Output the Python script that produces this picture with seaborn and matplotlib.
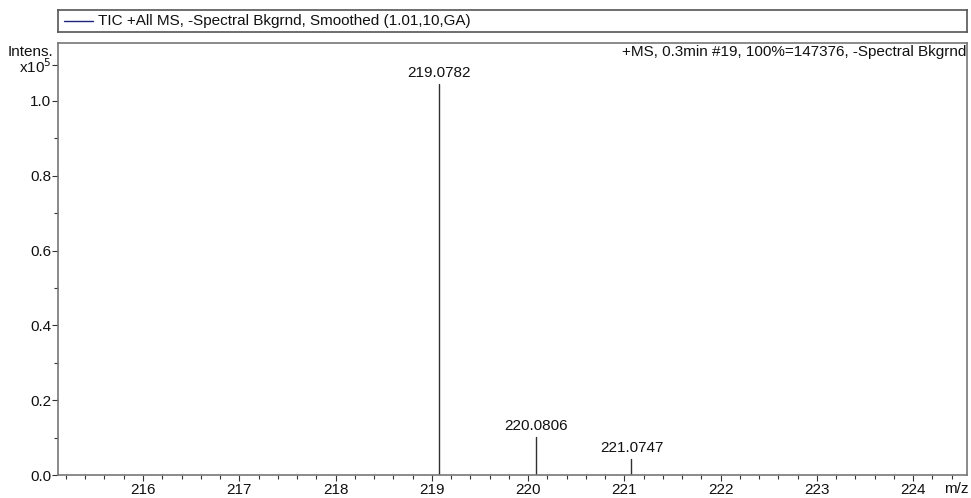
import matplotlib
matplotlib.use("Agg")
import matplotlib.pyplot as plt
from matplotlib.ticker import MultipleLocator, FixedLocator
import seaborn as sns
import pandas as pd

# centroid peaks (m/z, intensity in units of 1e5)
peak_mz = [219.0782, 220.0806, 221.0747]
peak_int = [1.046, 0.102, 0.043]
peak_labels = ["219.0782", "220.0806", "221.0747"]

x_ticks = [216, 217, 218, 219, 220, 221, 222, 223, 224]
y_ticks = [0.0, 0.2, 0.4, 0.6, 0.8, 1.0]

legend_text = "TIC +All MS, -Spectral Bkgrnd, Smoothed (1.01,10,GA)"
spectrum_info = "+MS, 0.3min #19, 100%=147376, -Spectral Bkgrnd"

sns.set_theme(style="white")
plt.rcParams["font.family"] = ["Liberation Sans", "DejaVu Sans"]

FS = 11

# each peak drawn as a vertical stick from the baseline
rows = []
for i, (mz, h) in enumerate(zip(peak_mz, peak_int)):
    rows.append({"mz": mz, "intens": 0.0, "peak": i})
    rows.append({"mz": mz, "intens": h, "peak": i})
sticks = pd.DataFrame(rows)

W, H = 971, 498
fig = plt.figure(figsize=(W / 100, H / 100), dpi=100)
ax = fig.add_axes([58 / W, 1 - 475 / H, (967 - 58) / W, (475 - 43) / H])

sns.lineplot(data=sticks, x="mz", y="intens", units="peak", estimator=None,
             color="#303030", linewidth=1.0, ax=ax, legend=False)

for mz, h, lab in zip(peak_mz, peak_int, peak_labels):
    ax.annotate(lab, (mz, h), xytext=(0, 3), textcoords="offset points",
                ha="center", va="bottom", fontsize=FS, color="#111111")

ax.set_xlim(215.117, 224.56)
ax.set_ylim(0, 1.155)
ax.set_xlabel("")
ax.set_ylabel("")

ax.xaxis.set_major_locator(FixedLocator(x_ticks))
ax.xaxis.set_minor_locator(MultipleLocator(0.2))
ax.set_xticklabels([str(t) for t in x_ticks])

ax.yaxis.set_major_locator(FixedLocator(y_ticks + [1.096]))
ax.set_yticklabels([f"{t:.1f}" for t in y_ticks] + ["x10$^5$"])
ax.yaxis.set_minor_locator(FixedLocator([0.1, 0.3, 0.5, 0.7, 0.9]))

ax.tick_params(axis="both", which="both", direction="out", color="#333333",
               labelsize=FS, labelcolor="#111111", bottom=True, left=True)
ax.tick_params(axis="x", which="major", length=4, width=0.8, pad=2)
ax.tick_params(axis="x", which="minor", length=3, width=0.8)
ax.tick_params(axis="y", which="major", length=4, width=0.8, pad=1)
ax.tick_params(axis="y", which="minor", length=3, width=0.8)

for s in ax.spines.values():
    s.set_color("#777777")
    s.set_linewidth(1.2)
    s.set_visible(True)

ax.text(-0.005, 0.979, "Intens.", transform=ax.transAxes, ha="right",
        va="center", fontsize=FS, color="#111111")
ax.text(0.999, 0.995, spectrum_info, transform=ax.transAxes, ha="right",
        va="top", fontsize=FS, color="#111111")
ax.text(0.988, -0.032, "m/z", transform=ax.transAxes, ha="center",
        va="center", fontsize=FS, color="#111111")

# legend strip above the plot
lax = fig.add_axes([58 / W, 1 - 32 / H, (967 - 58) / W, (32 - 10) / H])
lax.set_xlim(0, 1)
lax.set_ylim(0, 1)
lax.set_xticks([])
lax.set_yticks([])
for s in lax.spines.values():
    s.set_color("#555555")
    s.set_linewidth(1.2)
    s.set_visible(True)
lax.plot([6 / 909, 35 / 909], [0.5, 0.5], color="#1a237e", linewidth=1.0)
lax.text(40 / 909, 0.5, legend_text, ha="left", va="center", fontsize=FS,
         color="#111111")

fig.savefig("out.png", dpi=100, facecolor="white")
